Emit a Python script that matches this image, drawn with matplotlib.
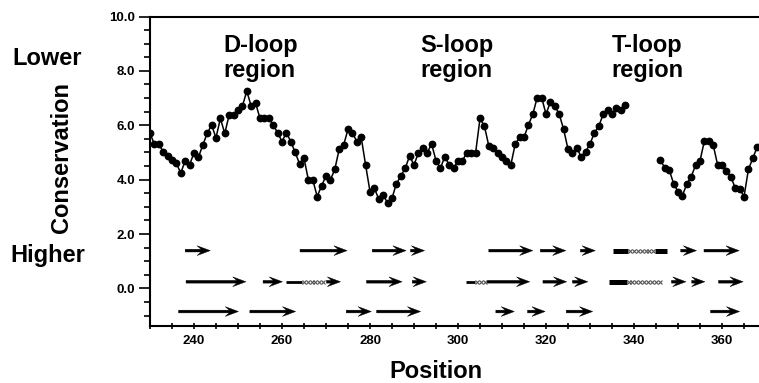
import numpy as np
import matplotlib
matplotlib.use("Agg")
import matplotlib.pyplot as plt
from matplotlib.ticker import MultipleLocator, FixedLocator

# ---------------------------------------------------------------------------
# Data
# ---------------------------------------------------------------------------

# conservation score, first stretch (positions 230..338)
pos_a = np.arange(230, 339)
score_a = [
    5.70, 5.31, 5.30, 5.03, 4.87, 4.73, 4.60, 4.24, 4.70, 4.54,
    4.99, 4.82, 5.27, 5.70, 6.01, 5.54, 6.25, 5.70, 6.39, 6.39,
    6.56, 6.70, 7.26, 6.70, 6.82, 6.25, 6.25, 6.25, 6.01, 5.73,
    5.40, 5.73, 5.40, 5.00, 4.58, 4.79, 3.99, 3.99, 3.38, 3.77,
    4.14, 3.99, 4.38, 5.12, 5.27, 5.85, 5.73, 5.40, 5.56, 4.54,
    3.56, 3.68, 3.28, 3.44, 3.14, 3.32, 3.85, 4.13, 4.42, 4.87,
    4.54, 4.99, 5.15, 4.99, 5.31, 4.70, 4.42, 4.85, 4.54, 4.42,
    4.70, 4.70, 4.99, 4.99, 4.99, 6.25, 5.97, 5.24, 5.15, 4.99,
    4.85, 4.70, 4.54, 5.31, 5.56, 5.56, 6.01, 6.41, 7.02, 7.02,
    6.41, 6.86, 6.70, 6.41, 5.85, 5.12, 4.99, 5.15, 4.85, 5.03,
    5.31, 5.73, 5.97, 6.41, 6.56, 6.41, 6.62, 6.56, 6.74,
]

# second stretch after the gap (positions 346..368)
pos_b = np.arange(346, 369)
score_b = [
    4.73, 4.42, 4.36, 3.85, 3.56, 3.41, 3.85, 4.11, 4.54, 4.70,
    5.43, 5.43, 5.27, 4.54, 4.54, 4.30, 4.11, 3.69, 3.66, 3.38,
    4.38, 4.79, 5.21,
]

# secondary-structure tracks: y level of each row
row_y = [1.39, 0.245, -0.85]

# strands (arrows), start -> end position
arrows_top = [(238.0, 243.7), (264.1, 274.8), (280.5, 288.2), (289.2, 292.4),
              (307.0, 317.0), (318.7, 324.5), (327.8, 331.2), (350.6, 354.2),
              (355.9, 363.9)]
arrows_mid = [(238.2, 251.8), (255.7, 260.1), (270.1, 273.3), (279.2, 287.3),
              (289.6, 292.8), (306.6, 316.3), (319.3, 324.7), (326.0, 329.5),
              (348.5, 351.8), (353.1, 356.1), (359.2, 364.8)]
arrows_bot = [(236.5, 250.1), (252.7, 263.1), (274.6, 280.3), (281.5, 291.5),
              (308.6, 312.8), (315.8, 319.8), (324.6, 330.6), (357.4, 364.0)]

# helices (thick bars), plain links, and "xxx" runs (start, end, count)
bars = {0: [(335.2, 338.7), (344.8, 347.6)], 1: [(334.4, 338.3)]}
links = {1: [(260.9, 264.6), (301.9, 303.9)]}
xruns = {0: [(338.7, 344.8, 7)],
         1: [(264.6, 269.7, 6), (303.9, 306.6, 3), (338.3, 346.3, 9)]}

region_labels = ["D-loop\nregion", "S-loop\nregion", "T-loop\nregion"]
region_x = [246.7, 291.4, 334.9]

# ---------------------------------------------------------------------------
# Plot
# ---------------------------------------------------------------------------
plt.rcParams["font.family"] = ["Liberation Sans", "DejaVu Sans"]
plt.rcParams["font.weight"] = "bold"

fig = plt.figure(figsize=(7.59, 3.83), dpi=100)
ax = fig.add_axes([0.1976, 0.1490, 0.8024, 0.8079])

for xs, ys in ((pos_a, score_a), (pos_b, score_b)):
    ax.plot(xs, ys, color="black", lw=1.1, marker="o", ms=4.6,
            mfc="black", mec="black", zorder=3)

all_arrows = [arrows_top, arrows_mid, arrows_bot]
for r, row in enumerate(all_arrows):
    y = row_y[r]
    for x0, x1 in row:
        ax.arrow(x0, y, x1 - x0, 0, width=0.1, head_width=0.36,
                 head_length=3.0, overhang=0.3, length_includes_head=True,
                 fc="black", ec="black", lw=0.3)
    for x0, x1 in bars.get(r, []):
        ax.plot([x0, x1], [y, y], color="black", lw=3.6, solid_capstyle="butt")
    for x0, x1 in links.get(r, []):
        ax.plot([x0, x1], [y, y], color="black", lw=2.0, solid_capstyle="butt")
    for x0, x1, n in xruns.get(r, []):
        step = (x1 - x0) / n
        xs = np.linspace(x0 + step / 2, x1 - step / 2, n)
        ax.plot(xs, [y] * n, ls="none", marker="x", ms=3.3, mew=0.8,
                color="#555555")

for lab, x in zip(region_labels, region_x):
    ax.text(x, 8.47, lab, fontsize=17, ha="left", va="center",
            linespacing=1.15)

ax.set_xlim(230, 368.4)
ax.set_ylim(-1.38, 10.0)

ax.xaxis.set_major_locator(FixedLocator(np.arange(240, 361, 20)))
ax.xaxis.set_minor_locator(MultipleLocator(5))
ax.yaxis.set_major_locator(FixedLocator(np.arange(0, 10.1, 2)))
ax.yaxis.set_minor_locator(MultipleLocator(0.5))
ax.set_yticklabels([f"{v:.1f}" for v in np.arange(0, 10.1, 2)])

ax.tick_params(axis="x", which="both", direction="inout", length=5,
               width=1.2, labelsize=9.5, pad=4)
ax.tick_params(axis="y", which="major", direction="out", length=8,
               width=1.2, labelsize=9.5, pad=2.5)
ax.tick_params(axis="y", which="minor", direction="out", length=4.5,
               width=1.2)

for side in ("left", "bottom", "top"):
    ax.spines[side].set_linewidth(1.5)
ax.spines["right"].set_visible(False)

fig.text(0.0619, 0.830, "Lower", fontsize=17, ha="center", va="baseline")
fig.text(0.0626, 0.317, "Higher", fontsize=17, ha="center", va="baseline")
fig.text(0.081, 0.589, "Conservation", fontsize=17, ha="center",
         va="center", rotation=90)
fig.text(0.5744, 0.013, "Position", fontsize=17, ha="center", va="baseline")

fig.savefig("out.png", dpi=100)
